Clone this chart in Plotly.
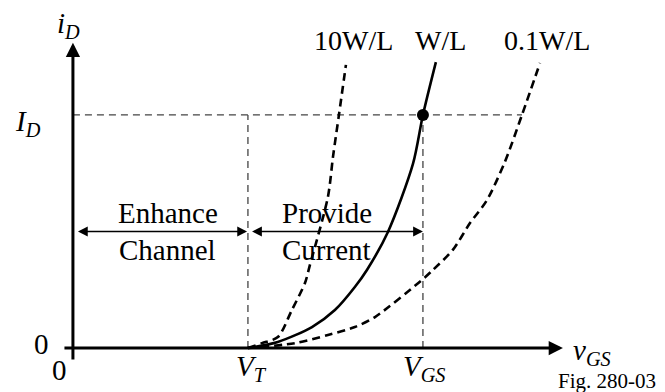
import plotly.graph_objects as go

# key levels (normalised units: V_T = 1, V_GS = 2, I_D = 1)
VT = 1.0
VGS = 2.0
ID = 1.0
X_END = 2.8
Y_END = 1.31

# W/L curve (solid)
wl_v = [1.0, 1.171, 1.366, 1.497, 1.611, 1.68, 1.8, 1.943, 2.0, 2.074]
wl_i = [0.0, 0.026, 0.090, 0.163, 0.262, 0.335, 0.498, 0.79, 1.0, 1.227]

# 10W/L curve (dashed)
w10_v = [1.0, 1.08, 1.171, 1.251, 1.326, 1.354, 1.457, 1.486, 1.52, 1.56]
w10_i = [0.0, 0.021, 0.047, 0.163, 0.279, 0.356, 0.648, 0.820, 1.0, 1.215]

# 0.1W/L curve (dashed)
w01_v = [1.0, 1.269, 1.457, 1.611, 1.726, 1.994, 2.057, 2.171, 2.269, 2.366, 2.469, 2.566, 2.669]
w01_i = [0.0, 0.021, 0.056, 0.090, 0.133, 0.292, 0.335, 0.421, 0.536, 0.635, 0.80, 1.0, 1.223]

curve_labels = ["10W/L", "W/L", "0.1W/L"]
curve_label_x = [1.606, 2.103, 2.709]

FONT = "Liberation Serif, Times New Roman, serif"

fig = go.Figure()

# guide lines
guide = dict(color="#444444", width=1.3, dash="7px,5px")
fig.add_trace(go.Scatter(x=[0, w01_v[-2]], y=[ID, ID], mode="lines", line=guide, hoverinfo="skip"))
fig.add_trace(go.Scatter(x=[VT, VT], y=[0, ID], mode="lines", line=guide, hoverinfo="skip"))
fig.add_trace(go.Scatter(x=[VGS, VGS], y=[0, ID], mode="lines", line=guide, hoverinfo="skip"))

# curves
fig.add_trace(go.Scatter(x=w10_v, y=w10_i, mode="lines", line_shape="spline",
                         line=dict(color="black", width=2.6, dash="8px,5px", smoothing=0.8)))
fig.add_trace(go.Scatter(x=w01_v, y=w01_i, mode="lines", line_shape="spline",
                         line=dict(color="black", width=2.6, dash="8px,5px", smoothing=0.8)))
fig.add_trace(go.Scatter(x=wl_v, y=wl_i, mode="lines", line_shape="spline",
                         line=dict(color="black", width=2.6, smoothing=0.8)))
fig.add_trace(go.Scatter(x=[VGS], y=[ID], mode="markers",
                         marker=dict(color="black", size=12)))

ann = []

def arrow(x0, y0, x1, y1, width, size, both=False):
    ann.append(dict(x=x1, y=y1, ax=x0, ay=y0, xref="x", yref="y", axref="x", ayref="y",
                    text="", showarrow=True, arrowhead=2, arrowsize=size, arrowwidth=width,
                    arrowcolor="black", arrowside="end+start" if both else "end",
                    standoff=0, startstandoff=0))

# axes
arrow(-0.057, 0, X_END, 0, 3, 0.95)
arrow(0, -0.056, 0, Y_END, 3, 0.95)

# region arrows
arrow(0.02, 0.5, VT - 0.005, 0.5, 1.4, 1.4, both=True)
arrow(VT + 0.015, 0.5, VGS, 0.5, 1.4, 1.4, both=True)

def label(x, y, text, size=29):
    ann.append(dict(x=x, y=y, xref="x", yref="y", text=text, showarrow=False,
                    font=dict(family=FONT, size=size, color="black")))

label(0.543, 0.579, "Enhance")
label(0.543, 0.42, "Channel")
label(1.451, 0.579, "Provide")
label(1.451, 0.42, "Current")

for t, x in zip(curve_labels, curve_label_x):
    label(x, 1.318, t, size=28)

label(-0.023, 1.385, "<i>i</i><sub><i>D</i></sub>")
label(-0.257, 0.966, "<i>I</i><sub><i>D</i></sub>")
label(-0.177, 0.017, "0")
label(-0.074, -0.094, "0")
label(VT + 0.02, -0.086, "<i>V</i><sub><i>T</i></sub>")
label(VGS + 0.01, -0.086, "<i>V</i><sub><i>GS</i></sub>")
label(2.966, -0.017, "<i>v</i><sub><i>GS</i></sub>")
label(3.05, -0.142, "Fig. 280-03", size=21)

# page body adds an 8px margin, so the ranges are shifted to compensate
fig.update_layout(
    width=665, height=392,
    margin=dict(l=0, r=0, t=0, b=0),
    paper_bgcolor="white", plot_bgcolor="white",
    showlegend=False,
    annotations=ann,
    xaxis=dict(visible=False, range=[-0.371, 3.429]),
    yaxis=dict(visible=False, range=[-0.223, 1.459]),
)

fig.write_html("out.html")
